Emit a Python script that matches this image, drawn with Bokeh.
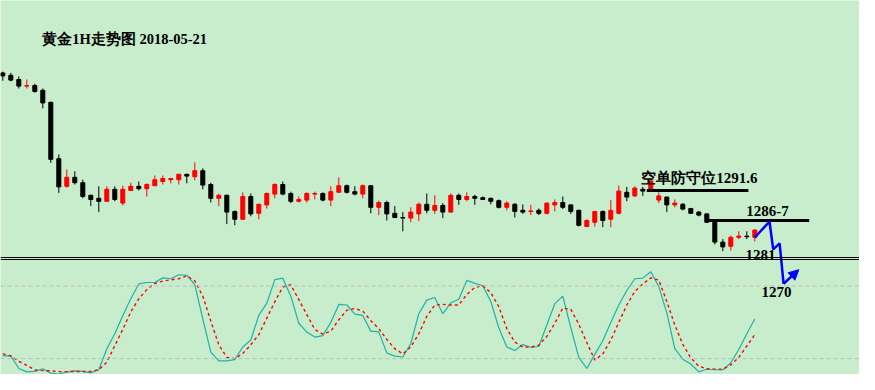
import numpy as np
from bokeh.plotting import figure
from bokeh.models import Range1d, Span, Label, Arrow, NormalHead, ColumnDataSource
from bokeh.embed import file_html
from bokeh.resources import INLINE

BG = "#C7EDCC"

# ---- data (1H gold candles) ----
opens = [1311.2, 1310.8, 1310.1, 1309.0, 1309.1, 1308.3, 1306.3, 1296.9, 1292.3, 1293.8,
         1292.9, 1290.8, 1290.3, 1289.8, 1291.8, 1289.5, 1291.6, 1292.3, 1291.9, 1292.4,
         1293.1, 1293.4, 1293.4, 1294.3, 1293.9, 1294.9, 1292.6, 1290.3, 1290.8, 1288.1,
         1286.8, 1290.6, 1287.8, 1289.2, 1291.0, 1292.6, 1291.1, 1289.8, 1290.0, 1291.0,
         1291.1, 1290.0, 1291.3, 1292.4, 1291.4, 1291.0, 1292.4, 1288.8, 1289.6, 1287.8,
         1287.1, 1287.0, 1287.7, 1289.3, 1288.3, 1289.1, 1288.0, 1290.8, 1290.1, 1290.6,
         1290.4, 1290.3, 1289.9, 1288.8, 1289.3, 1288.3, 1288.1, 1288.3, 1287.8, 1289.2,
         1289.6, 1289.2, 1288.3, 1285.6, 1286.3, 1288.1, 1286.8, 1287.8, 1291.3, 1290.7,
         1291.8, 1291.7, 1290.0, 1290.5, 1289.2, 1289.3, 1288.6, 1288.0, 1287.7, 1286.3,
         1283.0, 1282.3, 1283.8, 1284.0, 1283.8]
highs = [1311.4, 1311.2, 1310.6, 1310.1, 1309.4, 1308.6, 1306.4, 1297.6, 1295.1, 1294.8,
         1293.4, 1290.9, 1292.3, 1292.3, 1292.3, 1292.4, 1292.9, 1293.1, 1292.8, 1294.1,
         1294.1, 1293.7, 1294.4, 1294.4, 1296.3, 1295.3, 1292.9, 1291.1, 1290.9, 1288.3,
         1291.3, 1291.1, 1289.4, 1291.3, 1292.8, 1293.1, 1291.4, 1290.6, 1291.3, 1291.4,
         1291.3, 1292.3, 1293.8, 1292.6, 1292.3, 1292.6, 1292.5, 1289.9, 1289.9, 1289.0,
         1288.0, 1288.8, 1289.6, 1291.1, 1290.8, 1289.5, 1291.1, 1291.1, 1291.3, 1290.9,
         1290.6, 1290.4, 1290.1, 1289.8, 1289.5, 1289.3, 1289.2, 1288.6, 1289.6, 1290.1,
         1290.6, 1289.3, 1288.4, 1286.8, 1288.2, 1288.3, 1290.0, 1292.4, 1292.2, 1292.3,
         1292.2, 1293.5, 1291.3, 1290.6, 1290.1, 1289.5, 1288.7, 1288.2, 1287.8, 1286.5,
         1283.5, 1284.1, 1284.8, 1284.8, 1285.1]
lows = [1309.9, 1309.8, 1308.6, 1308.6, 1307.9, 1305.3, 1296.2, 1291.2, 1292.1, 1292.6,
        1290.3, 1289.0, 1288.0, 1289.7, 1289.8, 1289.1, 1291.5, 1291.6, 1290.6, 1292.3,
        1292.6, 1292.8, 1292.6, 1292.8, 1293.3, 1291.8, 1289.6, 1289.0, 1286.0, 1285.8,
        1286.7, 1287.3, 1286.8, 1288.6, 1290.3, 1290.8, 1289.5, 1289.6, 1289.6, 1290.1,
        1289.8, 1289.0, 1291.2, 1291.1, 1290.8, 1290.3, 1287.8, 1287.5, 1286.6, 1287.0,
        1284.8, 1286.3, 1286.5, 1287.8, 1287.7, 1287.0, 1287.9, 1289.2, 1289.8, 1289.2,
        1290.0, 1289.3, 1288.6, 1288.3, 1287.1, 1287.7, 1287.5, 1287.5, 1287.6, 1288.1,
        1288.5, 1287.7, 1285.6, 1285.5, 1285.6, 1285.5, 1285.5, 1287.6, 1289.8, 1290.5,
        1290.7, 1291.5, 1289.5, 1288.0, 1288.8, 1288.3, 1287.7, 1287.3, 1286.2, 1282.6,
        1281.5, 1281.6, 1283.5, 1283.5, 1283.1]
closes = [1310.7, 1310.0, 1309.0, 1309.1, 1308.1, 1306.2, 1296.8, 1292.2, 1293.8, 1292.9,
          1290.6, 1290.1, 1289.8, 1291.8, 1290.1, 1291.8, 1292.3, 1291.9, 1292.6, 1293.4,
          1293.6, 1293.6, 1294.3, 1294.0, 1294.9, 1292.5, 1290.3, 1290.8, 1288.0, 1286.8,
          1290.6, 1287.7, 1289.3, 1291.1, 1292.6, 1291.0, 1289.8, 1290.1, 1291.1, 1291.1,
          1290.0, 1291.4, 1292.4, 1291.3, 1291.0, 1292.4, 1288.8, 1289.6, 1287.7, 1287.1,
          1287.0, 1288.0, 1289.3, 1288.3, 1289.1, 1288.0, 1290.8, 1290.1, 1290.6, 1290.3,
          1290.1, 1289.8, 1288.8, 1289.5, 1288.1, 1288.0, 1288.2, 1287.8, 1289.5, 1289.6,
          1288.8, 1288.1, 1285.8, 1286.6, 1288.1, 1286.6, 1288.3, 1291.5, 1290.5, 1292.0,
          1291.5, 1293.2, 1290.7, 1289.2, 1289.5, 1288.5, 1287.8, 1287.5, 1286.3, 1283.0,
          1282.2, 1283.8, 1284.0, 1283.9, 1285.0]

# Stochastic %K and %D
stoch_k = [22.2, 22.2, 11.8, 9.0, 9.4, 11.6, 8.0, 7.2, 8.9, 9.8,
           9.4, 8.2, 10.8, 28.2, 40.5, 55.7, 69.4, 81.7, 82.9, 82.9,
           86.7, 86.0, 89.3, 88.9, 81.0, 52.8, 25.3, 18.1, 18.1, 19.2,
           29.6, 35.4, 55.7, 65.8, 85.3, 86.5, 71.6, 49.2, 41.9, 37.8,
           39.0, 49.9, 64.8, 64.3, 56.7, 55.7, 42.7, 42.1, 24.6, 22.0,
           21.3, 32.5, 57.1, 68.3, 70.5, 57.1, 66.1, 69.0, 84.6, 82.2,
           80.2, 67.2, 45.5, 29.6, 26.7, 31.6, 29.4, 30.0, 47.7, 65.4,
           71.6, 45.5, 21.0, 11.8, 23.5, 34.7, 49.9, 64.3, 76.3, 86.0,
           86.5, 91.8, 79.5, 57.8, 28.2, 19.5, 15.5, 9.0, 11.2, 10.8,
           10.6, 16.6, 27.5, 40.5, 52.8]
stoch_d = [23.9, 22.2, 17.7, 14.5, 10.6, 10.1, 9.9, 9.2, 9.2, 9.4,
           9.4, 9.4, 10.8, 17.0, 30.7, 44.1, 58.6, 69.4, 77.0, 82.1,
           84.1, 85.1, 86.0, 88.3, 84.2, 71.6, 51.0, 31.4, 21.0, 19.9,
           24.2, 31.4, 39.8, 53.5, 66.9, 79.2, 81.0, 68.7, 56.4, 44.1,
           40.3, 42.7, 52.1, 60.0, 61.4, 59.3, 51.3, 44.8, 35.8, 28.2,
           23.9, 29.6, 40.5, 54.9, 64.3, 64.8, 64.3, 64.3, 73.0, 78.8,
           80.2, 74.5, 62.9, 44.8, 33.6, 29.6, 29.4, 31.1, 38.3, 49.2,
           61.8, 60.7, 48.4, 33.3, 18.8, 23.9, 35.4, 49.9, 64.3, 75.5,
           81.7, 86.7, 84.9, 67.2, 47.7, 31.8, 20.6, 13.7, 11.6, 11.3,
           11.3, 14.8, 21.0, 30.4, 39.8]
stoch_levels = [80, 20]

# annotations
resist_level = 1291.6
resist_span = [80.5, 93.2]
zone_level = 1286.6
zone_span = [88.25, 100.8]
path_x = [94, 95.84, 96.3, 97.1, 97.6]
path_y = [1283.8, 1286.4, 1281.8, 1282.8, 1276.05]
arrow_end = (99.5, 1278.4)

idx = np.arange(len(opens))
o = np.array(opens); c = np.array(closes)
colors = np.where(c >= o, "#FF0000", "#000000")
src = ColumnDataSource(dict(x=idx, top=np.maximum(o, c), bottom=np.minimum(o, c),
                            high=highs, low=lows, color=colors))

p = figure(width=859, height=374, x_range=Range1d(-0.2875, 107.0875),
           y_range=Range1d(1260.93, 1323.27), output_backend="svg",
           toolbar_location=None, min_border=0, x_axis_type=None, y_axis_type=None,
           background_fill_color=BG, border_fill_color=BG, outline_line_color=None)
p.grid.visible = False
p.extra_y_ranges = {"stoch": Range1d(6.86, 315.95)}

# candles
p.segment(x0="x", y0="high", x1="x", y1="low", color="color", line_width=1, source=src)
p.vbar(x="x", width=0.5, top="top", bottom="bottom", fill_color="color",
       line_color="color", line_width=1, source=src)

# separator: two thin black rules between the panels
for loc in (1280.432, 1280.0987):
    p.add_layout(Span(location=loc, dimension="width", line_color="black", line_width=1))

# stochastic
for lv in stoch_levels:
    p.add_layout(Span(location=lv, dimension="width", y_range_name="stoch",
                      line_color="#BDBDBD", line_width=1, line_dash="4 3"))
p.line(idx, stoch_k, y_range_name="stoch", line_color="#1FB2A8", line_width=1.2)
p.line(idx, stoch_d, y_range_name="stoch", line_color="#FF0000", line_width=1.4,
       line_dash="3 3")

# resistance lines
p.line(resist_span, [resist_level] * 2, line_color="black", line_width=3)
p.line(zone_span, [zone_level] * 2, line_color="black", line_width=3)

# projected path
p.line(path_x, path_y, line_color="#0000FF", line_width=2.5)
p.add_layout(Arrow(end=NormalHead(size=10, fill_color="#0000FF", line_color="#0000FF"),
                   x_start=path_x[-1], y_start=path_y[-1],
                   x_end=arrow_end[0], y_end=arrow_end[1],
                   line_color="#0000FF", line_width=2.5))

font = "Liberation Serif"
def lab(x, y, t, size="15px"):
    p.add_layout(Label(x=x, y=y, text=t, text_font=font, text_font_size=size,
                       text_font_style="bold", text_color="black",
                       text_baseline="alphabetic"))

lab(4.93, 1316.8, "黄金1H走势图 2018-05-21", "14.5px")
lab(79.8, 1293.7, "空单防守位1291.6")
lab(92.92, 1288.1, "1286-7")
lab(92.84, 1280.85, "1281")
lab(94.84, 1274.6, "1270")

open("out.html", "w").write(file_html(p, INLINE))
